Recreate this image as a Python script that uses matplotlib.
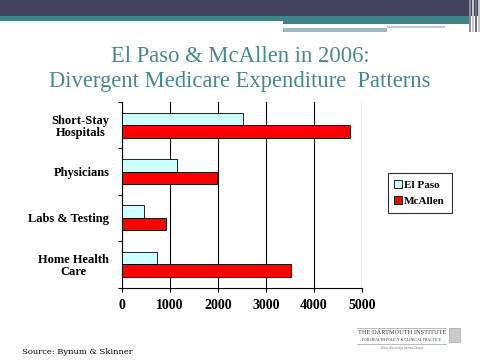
import matplotlib.pyplot as plt
from matplotlib.patches import Rectangle
import numpy as np

categories = ["Short-Stay\nHospitals", "Physicians", "Labs & Testing", "Home Health\nCare"]
el_paso = [2530, 1160, 470, 740]
mcallen = [4760, 1975, 915, 3530]
xticks = [0, 1000, 2000, 3000, 4000, 5000]

fig = plt.figure(figsize=(4.8, 3.6), dpi=100)
fig.patch.set_facecolor("white")

# slide banner at top
fig.add_artist(Rectangle((0, 1 - 16/360), 1, 16/360, transform=fig.transFigure, color="#41435a", lw=0))
fig.add_artist(Rectangle((0, 1 - 21/360), 0.98, 5/360, transform=fig.transFigure, color="#3f8488", lw=0))
fig.add_artist(Rectangle((283/480, 1 - 24/360), 0.98 - 283/480, 8/360, transform=fig.transFigure, color="#3f8488", lw=0))
fig.add_artist(Rectangle((283/480, 1 - 32/360), 104/480, 4/360, transform=fig.transFigure, color="#9ab8bb", lw=0))
fig.add_artist(Rectangle((387/480, 1 - 28/360), 58/480, 2/360, transform=fig.transFigure, color="#b7cccf", lw=0))
for xx, c in [(469, "#8a8c9a"), (472, "#c4c6cf"), (475, "#6c6e80"), (478, "#c4c6cf")]:
    fig.add_artist(Rectangle((xx/480, 1 - 32/360), 1.5/480, 32/360, transform=fig.transFigure, color=c, lw=0))

fig.text(0.5, 1 - 57/360, "El Paso & McAllen in 2006:", ha="center", va="center",
         fontsize=16.3, color="#4a8890", family="Liberation Serif")
fig.text(0.5, 1 - 81/360, "Divergent Medicare Expenditure  Patterns", ha="center", va="center",
         fontsize=16.3, color="#4a8890", family="Liberation Serif")

ax = fig.add_axes([121.7/480, 1 - 287.5/360, (362 - 121.7)/480, (287.5 - 102)/360])
y = np.arange(len(categories))[::-1]
h = 0.27
ax.barh(y + h/2, el_paso, height=h, color="#ccffff", edgecolor="black", lw=0.6, label="El Paso", zorder=3)
ax.barh(y - h/2, mcallen, height=h, color="#ff0000", edgecolor="black", lw=0.6, label="McAllen", zorder=3)

ax.set_xlim(0, 5000)
ax.set_ylim(-0.5, 3.5)
ax.set_xticks(xticks)
ax.set_xticklabels([str(v) for v in xticks], family="Liberation Serif", fontweight="bold", fontsize=10)
ax.set_yticks(y)
ax.set_yticklabels(categories, family="Liberation Serif", fontweight="bold", fontsize=9,
                   linespacing=1.0, multialignment="center")
ax.set_yticks([-0.5, 0.5, 1.5, 2.5, 3.5], minor=True)
ax.tick_params(axis="y", which="major", length=0, pad=9)
ax.tick_params(axis="y", which="minor", length=3, width=0.8, direction="out")
ax.tick_params(axis="x", length=3, width=0.8, direction="out", pad=5)
ax.grid(axis="x", color="black", lw=0.8, zorder=0)
ax.spines["top"].set_visible(False)
ax.spines["right"].set_visible(False)
ax.spines["left"].set_linewidth(0.8)
ax.spines["bottom"].set_linewidth(0.8)

leg = ax.legend(loc="center left", bbox_to_anchor=(382/480, 1 - 193/360), bbox_transform=fig.transFigure,
                prop={"family": "Liberation Serif", "size": 8, "weight": "bold"}, frameon=True, fancybox=False,
                handlelength=0.7, handleheight=0.7, handletextpad=0.2, borderpad=0.6, labelspacing=0.6)
leg.get_frame().set_edgecolor("black")
leg.get_frame().set_linewidth(0.8)

fig.text(22/480, 1 - 352/360, "Source: Bynum & Skinner", fontsize=6, family="DejaVu Serif", va="center")

# institute logo text
fig.text(402/480, 1 - 333/360, "THE DARTMOUTH INSTITUTE", fontsize=4.6, family="Liberation Serif",
         ha="center", va="center", color="#333333")
fig.text(402/480, 1 - 340/360, "FOR HEALTH POLICY & CLINICAL PRACTICE", fontsize=2.8, family="Liberation Serif",
         ha="center", va="center", color="#333333")
fig.text(402/480, 1 - 348/360, "Where Knowledge Informs Change", fontsize=2.2, family="Liberation Serif",
         ha="center", va="center", color="#777777", style="italic")
fig.add_artist(plt.Line2D([357/480, 446/480], [1 - 328/360, 1 - 328/360], color="#9bb5b5", lw=0.6))
fig.add_artist(plt.Line2D([357/480, 446/480], [1 - 344/360, 1 - 344/360], color="#9bb5b5", lw=0.6))
fig.add_artist(Rectangle((449/480, 1 - 342/360), 11/480, 14/360, transform=fig.transFigure,
                         facecolor="#c8cccc", edgecolor="#999999", lw=0.4))

fig.savefig("out.png", dpi=100)
